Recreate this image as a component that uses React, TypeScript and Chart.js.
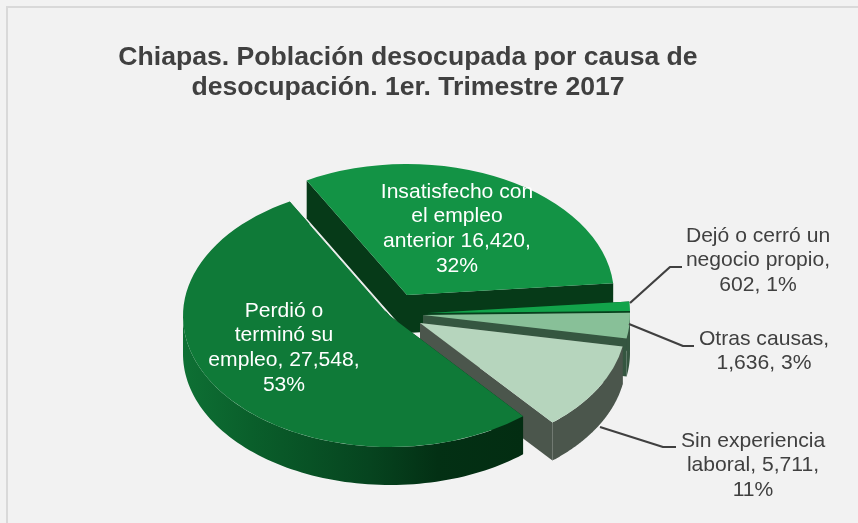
import React, { useEffect, useRef } from "react";
import { Chart, registerables } from "chart.js";

Chart.register(...registerables);

const categories = [
  "Perdió o terminó su empleo",
  "Insatisfecho con el empleo anterior",
  "Dejó o cerró un negocio propio",
  "Otras causas",
  "Sin experiencia laboral",
];
const values = [27548, 16420, 602, 1636, 5711];
const faceColors = ["#0f7a38", "#139345", "#12a34a", "#88c098", "#b6d5bd"];
const wallColors = ["#07471f", "#063a18", "#06401c", "#355640", "#4b564c"];
const titleLines = [
  "Chiapas. Población desocupada por causa de",
  "desocupación. 1er. Trimestre 2017",
];
const labelLines = [
  ["Perdió o", "terminó su", "empleo, 27,548,", "53%"],
  ["Insatisfecho con", "el empleo", "anterior 16,420,", "32%"],
  ["Dejó o cerró un", "negocio propio,", "602, 1%"],
  ["Otras causas,", "1,636, 3%"],
  ["Sin experiencia", "laboral, 5,711,", "11%"],
];

// Where each exploded slice's ellipse sits on the page
const sliceFrames = [
  { cx: 390, cy: 316, a: 207, b: 131 },
  { cx: 407, cy: 295, a: 207, b: 131 },
  { cx: 428, cy: 313, a: 202, b: 128 },
  { cx: 423, cy: 315, a: 207, b: 130 },
  { cx: 420, cy: 323, a: 206, b: 130 },
];
const labelAnchors = [
  { x: 284, y: 311 },
  { x: 457, y: 192 },
  { x: 758, y: 236 },
  { x: 764, y: 339 },
  { x: 753, y: 441 },
];
const leaders = [
  null,
  null,
  [[630, 303], [670, 267], [682, 267]],
  [[629, 324], [683, 346], [694, 346]],
  [[600, 427], [663, 447], [676, 447]],
];
const depth = 38;
const paintOrder = [1, 2, 3, 4, 0];
const FONT = '"Liberation Sans", Arial, sans-serif';

const pie3d = {
  id: "pie3d",
  beforeDatasetDraw(chart: any) {
    const ctx = chart.ctx as CanvasRenderingContext2D;
    const arcs = chart.getDatasetMeta(0).data;
    for (const i of paintOrder) {
      const arc = arcs[i];
      const f = sliceFrames[i];
      const px = (t: number, r = 1) => f.cx + f.a * r * Math.cos(t);
      const py = (t: number, r = 1) => f.cy + f.b * r * Math.sin(t);
      const s = arc.startAngle;
      const e = arc.endAngle;
      let fill: any = wallColors[i];
      if (i === 0) {
        const g = ctx.createLinearGradient(183, 0, 523, 0);
        g.addColorStop(0, "#0e7034");
        g.addColorStop(0.2, "#0a5f2b");
        g.addColorStop(0.55, "#06441f");
        g.addColorStop(0.75, "#033014");
        g.addColorStop(1, "#032d12");
        fill = g;
      }
      ctx.save();
      ctx.fillStyle = fill;
      for (const t of [s, e]) {
        ctx.beginPath();
        ctx.moveTo(f.cx, f.cy);
        ctx.lineTo(px(t), py(t));
        ctx.lineTo(px(t), py(t) + depth);
        ctx.lineTo(f.cx, f.cy + depth);
        ctx.closePath();
        ctx.fill();
      }
      const pts: number[] = [];
      for (let k = 0; k <= 120; k++) {
        const t = s + ((e - s) * k) / 120;
        if (Math.sin(t) >= -0.03) pts.push(t);
      }
      if (pts.length > 1) {
        ctx.beginPath();
        pts.forEach((t, k) => (k ? ctx.lineTo(px(t), py(t)) : ctx.moveTo(px(t), py(t))));
        [...pts].reverse().forEach((t) => ctx.lineTo(px(t), py(t) + depth));
        ctx.closePath();
        ctx.fill();
      }
      ctx.restore();

      // The face itself is the library's arc, flattened onto the slice's ellipse
      const R = arc.outerRadius;
      const sx = f.a / R;
      const sy = f.b / R;
      ctx.save();
      ctx.transform(sx, 0, 0, sy, f.cx - sx * arc.x, f.cy - sy * arc.y);
      arc.draw(ctx);
      ctx.restore();
    }
    // seam along the back edge of the largest slice
    const f0 = sliceFrames[0];
    const t0 = arcs[0].endAngle;
    ctx.save();
    ctx.strokeStyle = "rgba(242,242,242,0.9)";
    ctx.lineWidth = 1;
    ctx.beginPath();
    ctx.moveTo(f0.cx + f0.a * 0.8 * Math.cos(t0), f0.cy + f0.b * 0.8 * Math.sin(t0));
    ctx.lineTo(f0.cx + f0.a * 0.04 * Math.cos(t0), f0.cy + f0.b * 0.04 * Math.sin(t0));
    ctx.stroke();
    ctx.restore();
    return false;
  },
  afterDraw(chart: any) {
    const ctx = chart.ctx as CanvasRenderingContext2D;
    ctx.save();
    ctx.strokeStyle = "#404040";
    ctx.lineWidth = 2.2;
    ctx.lineJoin = "round";
    leaders.forEach((l) => {
      if (!l) return;
      ctx.beginPath();
      l.forEach(([x, y], k) => (k ? ctx.lineTo(x, y) : ctx.moveTo(x, y)));
      ctx.stroke();
    });
    ctx.font = `21.1px ${FONT}`;
    ctx.textAlign = "center";
    ctx.textBaseline = "middle";
    labelLines.forEach((lines, i) => {
      ctx.fillStyle = i < 2 ? "#ffffff" : "#404040";
      lines.forEach((t, k) => ctx.fillText(t, labelAnchors[i].x, labelAnchors[i].y + k * 24.6));
    });
    ctx.restore();
  },
  beforeDraw(chart: any) {
    const ctx = chart.ctx as CanvasRenderingContext2D;
    ctx.save();
    ctx.fillStyle = "#f2f2f2";
    ctx.fillRect(0, 0, chart.width, chart.height);
    ctx.strokeStyle = "#d9d9d9";
    ctx.lineWidth = 2;
    ctx.strokeRect(7, 7, chart.width + 20, chart.height + 20);
    ctx.restore();
  },
};

export default function App() {
  const ref = useRef<HTMLCanvasElement>(null);
  useEffect(() => {
    const chart = new Chart(ref.current!, {
      type: "pie",
      data: {
        labels: categories,
        datasets: [{ data: values, backgroundColor: faceColors, borderWidth: 0 }],
      },
      options: {
        responsive: false,
        animation: false,
        rotation: 140,
        layout: { padding: { right: 42, top: 0 } },
        plugins: {
          legend: { display: false },
          tooltip: { enabled: false },
          title: {
            display: true,
            text: titleLines,
            color: "#404040",
            font: { family: FONT, size: 26.6, weight: "bold", lineHeight: 1.13 },
            padding: { top: 43, bottom: 10 },
          },
        },
      },
      plugins: [pie3d],
    } as any);
    return () => chart.destroy();
  }, []);
  return (
    <div style={{ position: "fixed", left: 0, top: 0, width: 858, height: 523 }}>
      <canvas ref={ref} width={858} height={523} style={{ display: "block" }} />
    </div>
  );
}
